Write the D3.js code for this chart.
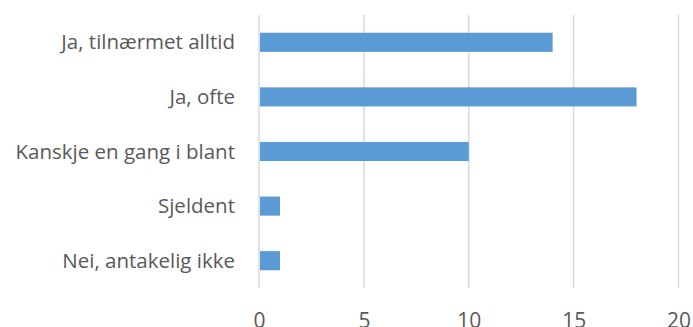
<!DOCTYPE html>
<html>
<head>
<meta charset="utf-8">
<script src="https://cdn.jsdelivr.net/npm/d3@7"></script>
<style>
  html, body { margin: 0; padding: 0; background: #fff; }
</style>
</head>
<body>
<div id="chart"></div>
<script>
const categories = [
  "Ja, tilnærmet alltid",
  "Ja, ofte",
  "Kanskje en gang i blant",
  "Sjeldent",
  "Nei, antakelig ikke"
];
const values = [14, 18, 10, 1, 1];
const tickValues = [0, 5, 10, 15, 20];

const WIDTH = 693;
const HEIGHT = 327;
const FONT = "'Open Sans', 'Liberation Sans', sans-serif";
const TEXT_COLOR = "#595959";
const GRID_COLOR = "#d9d9d9";
const BAR_COLOR = "#5b9bd5";

const svg = d3.select("#chart")
  .append("svg")
  .attr("width", WIDTH)
  .attr("height", HEIGHT);

const x = d3.scaleLinear()
  .domain([0, 20])
  .range([259, 678.5]);

const y = d3.scaleBand()
  .domain(categories)
  .range([15, 288])
  .paddingInner(0.65)
  .paddingOuter(0.325);

// vertical gridlines
svg.append("g")
  .selectAll("line")
  .data(tickValues)
  .join("line")
  .attr("x1", d => x(d))
  .attr("x2", d => x(d))
  .attr("y1", 15)
  .attr("y2", 288)
  .attr("stroke", GRID_COLOR)
  .attr("stroke-width", 1.5);

// bars
svg.append("g")
  .selectAll("rect")
  .data(categories)
  .join("rect")
  .attr("x", x(0) + 1)
  .attr("y", d => y(d))
  .attr("width", (d, i) => x(values[i]) - x(0) - 1)
  .attr("height", y.bandwidth())
  .attr("fill", BAR_COLOR);

// category labels
svg.append("g")
  .selectAll("text")
  .data(categories)
  .join("text")
  .attr("x", 235)
  .attr("y", d => y(d) + y.bandwidth() / 2)
  .attr("dy", "0.35em")
  .attr("text-anchor", "end")
  .attr("font-family", FONT)
  .attr("font-size", 20.5)
  .attr("fill", TEXT_COLOR)
  .text(d => d);

// x tick labels
const xAxis = svg.append("g")
  .attr("transform", "translate(0,288)")
  .call(d3.axisBottom(x).tickValues(tickValues).tickSize(0).tickPadding(0));
xAxis.select(".domain").remove();
xAxis.selectAll("text")
  .attr("y", 40)
  .attr("dy", 0)
  .attr("font-family", FONT)
  .attr("font-size", 21)
  .attr("fill", TEXT_COLOR);
</script>
</body>
</html>
